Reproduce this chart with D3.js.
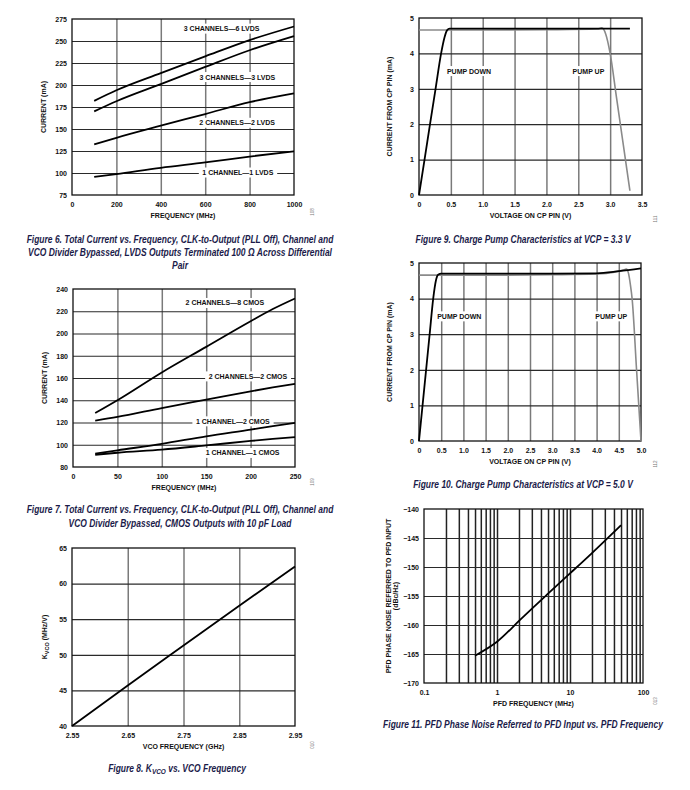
<!DOCTYPE html>
<html><head><meta charset="utf-8">
<script src="https://cdn.jsdelivr.net/npm/d3@7"></script>
<style>
body{margin:0;background:#fff}
svg{display:block}
text{font-family:"Liberation Sans",Arial,Helvetica,sans-serif}
</style>
</head><body>
<svg id="c" width="690" height="790"></svg>
<script>
// ---------------- DATA ----------------
// Figure 6
const fig6Freq = [100, 200, 400, 600, 800, 1000];
const fig6Ch3Lvds6 = [182, 194, 213.5, 232.5, 251, 266.5];
const fig6Ch3Lvds3 = [170, 181.5, 201, 220.5, 239.5, 255.5];
const fig6Ch2Lvds2 = [132.6, 140, 153.7, 167, 180.5, 190.5];
const fig6Ch1Lvds1 = [95.5, 98.8, 105.9, 112, 118.7, 124.7];
const fig6XTicks = [0, 200, 400, 600, 800, 1000];
const fig6YTicks = [75, 100, 125, 150, 175, 200, 225, 250, 275];
const fig6Labels = ["3 CHANNELS\u20146 LVDS", "3 CHANNELS\u20143 LVDS", "2 CHANNELS\u20142 LVDS", "1 CHANNEL\u20141 LVDS"];

// Figure 7
const fig7Freq = [25, 50, 100, 150, 200, 225, 250];
const fig7Ch2Cmos8 = [128.5, 140, 165, 188, 211, 222, 231.5];
const fig7Ch2Cmos2 = [121.7, 125, 133, 140.5, 148, 151.5, 154.8];
const fig7Ch1Cmos2 = [92, 95, 100.8, 107.6, 113.6, 116.7, 119.6];
const fig7Ch1Cmos1 = [91, 92.8, 95.6, 99.4, 103.4, 105.2, 106.8];
const fig7XTicks = [0, 50, 100, 150, 200, 250];
const fig7YTicks = [80, 100, 120, 140, 160, 180, 200, 220, 240];
const fig7Labels = ["2 CHANNELS\u20148 CMOS", "2 CHANNELS\u20142 CMOS", "1 CHANNEL\u20142 CMOS", "1 CHANNEL\u20141 CMOS"];

// Figure 8
const fig8Freq = [2.55, 2.65, 2.75, 2.85, 2.95];
const fig8Kvco = [40, 45.7, 51.3, 56.9, 62.4];
const fig8XTicks = [2.55, 2.65, 2.75, 2.85, 2.95];
const fig8YTicks = [40, 45, 50, 55, 60, 65];

// Figure 9 (VCP = 3.3 V)
const fig9DownV = [0, 0.087, 0.173, 0.26, 0.347, 0.40, 0.44, 0.48, 1.0, 2.0, 3.0, 3.31];
const fig9DownI = [0, 1, 2, 3, 4, 4.45, 4.65, 4.70, 4.70, 4.70, 4.70, 4.70];
const fig9UpV = [0, 0.5, 1.0, 2.0, 2.8, 2.87, 2.93, 3.0, 3.1, 3.2, 3.31];
const fig9UpI = [4.66, 4.66, 4.66, 4.67, 4.69, 4.72, 4.55, 4.0, 2.75, 1.5, 0.12];
const fig9XTicks = [0, 0.5, 1.0, 1.5, 2.0, 2.5, 3.0, 3.5];
const fig9YTicks = [0, 1, 2, 3, 4, 5];

// Figure 10 (VCP = 5.0 V)
const fig10DownV = [0, 0.08, 0.16, 0.24, 0.32, 0.38, 0.43, 0.5, 1, 2, 3, 4.0, 4.5, 5.0];
const fig10DownI = [0, 1, 2, 3, 4, 4.5, 4.67, 4.70, 4.70, 4.70, 4.70, 4.71, 4.77, 4.85];
const fig10UpV = [0, 1, 2, 3, 4, 4.4, 4.6, 4.67, 4.72, 4.76, 4.8, 4.9, 5.0];
const fig10UpI = [4.66, 4.66, 4.66, 4.67, 4.69, 4.74, 4.8, 4.83, 4.7, 4.4, 4.0, 2.0, 0];
const fig10XTicks = [0, 0.5, 1.0, 1.5, 2.0, 2.5, 3.0, 3.5, 4.0, 4.5, 5.0];
const fig10YTicks = [0, 1, 2, 3, 4, 5];

// Figure 11
const fig11Freq = [0.5, 1, 2, 5, 10, 20, 50];
const fig11Noise = [-165.3, -162.9, -159.3, -154.6, -151.1, -147.6, -142.8];
const fig11XTicks = [0.1, 1, 10, 100];
const fig11YTicks = [-170, -165, -160, -155, -150, -145, -140];

// ---------------- DRAW ----------------
const svg = d3.select("#c");
svg.append("rect").attr("width", 690).attr("height", 790).attr("fill", "#fff");

const FONT = '"Liberation Sans",Arial,Helvetica,sans-serif';
const CAPFONT = '"Liberation Sans Narrow","Arial Narrow","Liberation Sans",Arial,sans-serif';
let capScale = null;

function panel(o) {
  const [L, R, T, B] = o.box;
  const g = svg.append("g");
  const x = (o.xLog ? d3.scaleLog() : d3.scaleLinear()).domain(o.xDomain).range([L, R]);
  const y = d3.scaleLinear().domain(o.yDomain).range([B, T]);

  const vg = g.append("g").attr("transform", `translate(0,${B})`)
    .call(d3.axisBottom(x).tickValues(o.xGrid).tickSize(-(B - T)).tickFormat(""));
  vg.select(".domain").remove();
  vg.selectAll("line").attr("stroke", o.vGridColor || "#7a7a7a").attr("stroke-width", 1.5);
  const hg = g.append("g").attr("transform", `translate(${L},0)`)
    .call(d3.axisLeft(y).tickValues(o.yGrid).tickSize(-(R - L)).tickFormat(""));
  hg.select(".domain").remove();
  hg.selectAll("line").attr("stroke", "#2a2a2a").attr("stroke-width", 1.2);

  (o.labels || []).forEach(l => {
    const t = g.append("text").attr("x", x(l.x)).attr("y", y(l.y)).attr("dy", "0.35em")
      .attr("text-anchor", "middle").attr("font-size", 7).attr("font-weight", "bold")
      .attr("font-family", FONT).attr("fill", "#111").text(l.text);
    const bb = t.node().getBBox();
    g.insert("rect", () => t.node()).attr("x", bb.x - 3.5).attr("y", bb.y - 1.5)
      .attr("width", bb.width + 7).attr("height", bb.height + 3).attr("fill", "#fff");
  });

  g.append("rect").attr("x", L).attr("y", T).attr("width", R - L).attr("height", B - T)
    .attr("fill", "none").attr("stroke", "#111").attr("stroke-width", 1.3);

  (o.series || []).forEach(s => {
    const pts = s.x.map((v, i) => [v, s.y[i]]);
    g.append("path").datum(pts)
      .attr("d", d3.line().x(d => x(d[0])).y(d => y(d[1])).curve(s.curve || d3.curveMonotoneX))
      .attr("fill", "none").attr("stroke", s.color || "#000")
      .attr("stroke-width", s.width || 1.8).attr("stroke-linejoin", "round");
  });

  const xa = g.append("g").attr("transform", `translate(0,${B})`)
    .call(d3.axisBottom(x).tickValues(o.xTicks).tickSize(0).tickPadding(7).tickFormat(o.xFormat || d3.format("")));
  xa.select(".domain").remove();
  const ya = g.append("g").attr("transform", `translate(${L},0)`)
    .call(d3.axisLeft(y).tickValues(o.yTicks).tickSize(0).tickPadding(o.yPad || 5).tickFormat(o.yFormat || d3.format("")));
  ya.select(".domain").remove();
  g.selectAll(".tick text").attr("font-family", FONT).attr("font-size", 7)
    .attr("font-weight", "bold").attr("fill", "#111");

  g.append("text").attr("x", (L + R) / 2).attr("y", B + 23)
    .attr("text-anchor", "middle").attr("font-size", 7).attr("font-weight", "bold")
    .attr("font-family", FONT).attr("fill", "#111").text(o.xTitle);
  o.yTitle.forEach(line => {
    const t = g.append("text").attr("transform", `translate(${line.x},${(T + B) / 2}) rotate(-90)`)
      .attr("text-anchor", "middle").attr("font-size", 7).attr("font-weight", "bold")
      .attr("font-family", FONT).attr("fill", "#111");
    if (line.parts) {
      line.parts.forEach(p => {
        const ts = t.append("tspan").text(p.t);
        if (p.sub) ts.attr("font-size", 5.5).attr("dy", 2);
        if (p.up) ts.attr("dy", -2);
      });
    } else t.text(line.text);
  });
  g.append("text").attr("transform", `translate(${o.id.x},${o.id.y}) rotate(-90)`)
    .attr("text-anchor", "middle").attr("font-size", 4.5).attr("font-family", FONT)
    .attr("fill", "#777").text(o.id.t);

  o.caption.forEach(c => {
    const t = svg.append("text").attr("x", c.cx).attr("y", c.y).attr("text-anchor", "middle")
      .attr("font-family", CAPFONT).attr("font-size", 10.5).attr("font-weight", "bold")
      .attr("font-style", "italic").attr("fill", "#1b1b4a");
    if (c.parts) {
      c.parts.forEach(p => {
        const ts = t.append("tspan").text(p.t);
        if (p.sub) ts.attr("font-size", 8).attr("dy", 2.5);
        if (p.up) ts.attr("dy", -2.5);
      });
    } else t.text(c.text);
    if (capScale === null) capScale = 307 / t.node().getComputedTextLength();
    t.attr("transform", `translate(${c.cx},0) scale(${capScale},1) translate(${-c.cx},0)`);
  });
  return { x, y };
}

// Figure 6
panel({
  box: [72, 294, 19, 195], xDomain: [0, 1000], yDomain: [75, 275],
  xGrid: [200, 400, 600, 800], yGrid: [100, 125, 150, 175, 200, 225, 250],
  xTicks: fig6XTicks, yTicks: fig6YTicks,
  series: [
    { x: fig6Freq, y: fig6Ch3Lvds6 }, { x: fig6Freq, y: fig6Ch3Lvds3 },
    { x: fig6Freq, y: fig6Ch2Lvds2 }, { x: fig6Freq, y: fig6Ch1Lvds1 }
  ],
  labels: [
    { text: fig6Labels[0], x: 674, y: 264 }, { text: fig6Labels[1], x: 745, y: 209 },
    { text: fig6Labels[2], x: 744, y: 157 }, { text: fig6Labels[3], x: 747, y: 100.5 }
  ],
  xTitle: "FREQUENCY (MHz)", yTitle: [{ x: 46, text: "CURRENT (mA)" }],
  id: { x: 314, y: 212, t: "108" },
  caption: [
    { cx: 180, y: 243, text: "Figure 6. Total Current vs. Frequency, CLK-to-Output (PLL Off), Channel and" },
    { cx: 180, y: 256, text: "VCO Divider Bypassed, LVDS Outputs Terminated 100 \u03A9 Across Differential" },
    { cx: 180, y: 269, text: "Pair" }
  ]
});

// Figure 7
panel({
  box: [73, 295, 289, 467], xDomain: [0, 250], yDomain: [80, 240],
  xGrid: [50, 100, 150, 200], yGrid: [100, 120, 140, 160, 180, 200, 220],
  xTicks: fig7XTicks, yTicks: fig7YTicks,
  series: [
    { x: fig7Freq, y: fig7Ch2Cmos8 }, { x: fig7Freq, y: fig7Ch2Cmos2 },
    { x: fig7Freq, y: fig7Ch1Cmos2 }, { x: fig7Freq, y: fig7Ch1Cmos1 }
  ],
  labels: [
    { text: fig7Labels[0], x: 171, y: 227.4 }, { text: fig7Labels[1], x: 197, y: 161.4 },
    { text: fig7Labels[2], x: 180, y: 121 }, { text: fig7Labels[3], x: 191, y: 92.6 }
  ],
  xTitle: "FREQUENCY (MHz)", yTitle: [{ x: 47, text: "CURRENT (mA)" }],
  id: { x: 314, y: 482, t: "109" },
  caption: [
    { cx: 180, y: 513, text: "Figure 7. Total Current vs. Frequency, CLK-to-Output (PLL Off), Channel and" },
    { cx: 180, y: 527, text: "VCO Divider Bypassed, CMOS Outputs with 10 pF Load" }
  ]
});

// Figure 8
panel({
  box: [72, 295, 548, 726], xDomain: [2.55, 2.95], yDomain: [40, 65],
  xGrid: [2.65, 2.75, 2.85], yGrid: [45, 50, 55, 60],
  xTicks: fig8XTicks, yTicks: fig8YTicks, xFormat: d3.format(".2f"),
  series: [{ x: fig8Freq, y: fig8Kvco }],
  xTitle: "VCO FREQUENCY (GHz)",
  yTitle: [{ x: 47, parts: [{ t: "K" }, { t: "VCO", sub: true }, { t: " (MHz/V)", up: true }] }],
  id: { x: 314, y: 745, t: "010" },
  caption: [
    { cx: 177, y: 772, parts: [{ t: "Figure 8. K" }, { t: "VCO", sub: true }, { t: " vs. VCO Frequency", up: true }] }
  ]
});

// Figure 9
panel({
  box: [419, 642, 18, 195], xDomain: [0, 3.5], yDomain: [0, 5],
  xGrid: [0.5, 1.0, 1.5, 2.0, 2.5, 3.0], yGrid: [1, 2, 3, 4],
  xTicks: fig9XTicks, yTicks: fig9YTicks, xFormat: d => d === 0 ? "0" : d3.format(".1f")(d),
  series: [
    { x: fig9UpV, y: fig9UpI, color: "#8a8a8a", width: 1.6 },
    { x: fig9DownV, y: fig9DownI, color: "#000", width: 1.8 }
  ],
  labels: [{ text: "PUMP DOWN", x: 0.785, y: 3.5 }, { text: "PUMP UP", x: 2.66, y: 3.5 }],
  xTitle: "VOLTAGE ON CP PIN (V)", yTitle: [{ x: 392, text: "CURRENT FROM CP PIN (mA)" }],
  id: { x: 657, y: 219, t: "111" },
  caption: [{ cx: 523, y: 243, text: "Figure 9. Charge Pump Characteristics at VCP = 3.3 V" }]
});

// Figure 10
panel({
  box: [419, 641, 263, 441], xDomain: [0, 5], yDomain: [0, 5],
  xGrid: [0.5, 1.0, 1.5, 2.0, 2.5, 3.0, 3.5, 4.0, 4.5], yGrid: [1, 2, 3, 4],
  xTicks: fig10XTicks, yTicks: fig10YTicks, xFormat: d => d === 0 ? "0" : d3.format(".1f")(d),
  series: [
    { x: fig10UpV, y: fig10UpI, color: "#8a8a8a", width: 1.6 },
    { x: fig10DownV, y: fig10DownI, color: "#000", width: 1.8 }
  ],
  labels: [{ text: "PUMP DOWN", x: 0.908, y: 3.5 }, { text: "PUMP UP", x: 4.33, y: 3.5 }],
  xTitle: "VOLTAGE ON CP PIN (V)", yTitle: [{ x: 392, text: "CURRENT FROM CP PIN (mA)" }],
  id: { x: 657, y: 464, t: "112" },
  caption: [{ cx: 523, y: 488, text: "Figure 10. Charge Pump Characteristics at VCP = 5.0 V" }]
});

// Figure 11
const logGrid = [];
[0.1, 1, 10].forEach(dec => { for (let k = 1; k <= 9; k++) { const v = dec * k; if (v > 0.1) logGrid.push(v); } });
panel({
  box: [424, 643, 509, 683], xLog: true, xDomain: [0.1, 100], yDomain: [-170, -140],
  xGrid: logGrid, yGrid: [-165, -160, -155, -150, -145], vGridColor: "#222",
  xTicks: fig11XTicks, yTicks: fig11YTicks, xFormat: d => String(d),
  yFormat: d => "\u2212" + Math.abs(d),
  series: [{ x: fig11Freq, y: fig11Noise, curve: d3.curveNatural }],
  xTitle: "PFD FREQUENCY (MHz)",
  yTitle: [{ x: 391, text: "PFD PHASE NOISE REFERRED TO PFD INPUT" }, { x: 398, text: "(dBc/Hz)" }],
  id: { x: 657, y: 701, t: "013" },
  caption: [{ cx: 523, y: 728, text: "Figure 11. PFD Phase Noise Referred to PFD Input vs. PFD Frequency" }]
});
</script>
</body></html>
